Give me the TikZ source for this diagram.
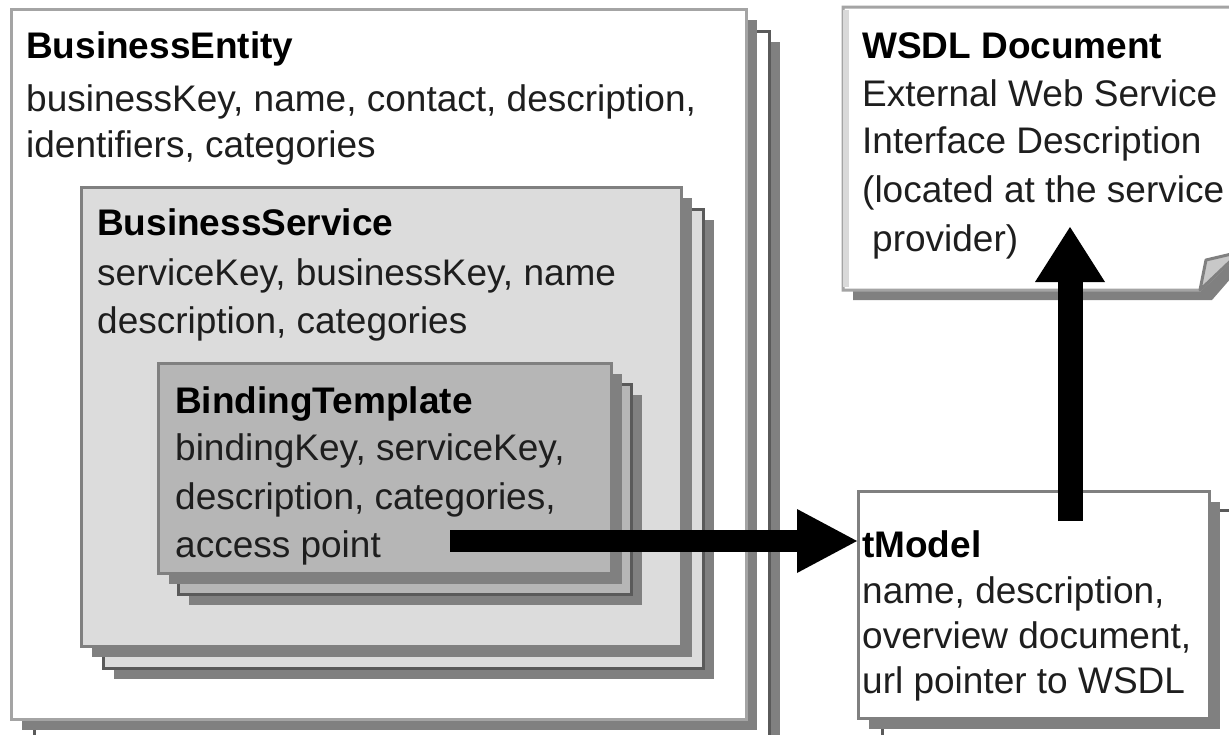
\documentclass[tikz,border=0pt]{standalone}
\usepackage{fontspec}
\setmainfont{Liberation Sans}
\usetikzlibrary{arrows.meta,shadows}
\definecolor{shadowgray}{HTML}{808080}
\definecolor{bordergray}{HTML}{A4A4A4}
\definecolor{backborder}{HTML}{5A5A5A}
\definecolor{bsfill}{HTML}{DCDCDC}
\definecolor{btfill}{HTML}{B6B6B6}
\definecolor{textc}{HTML}{1E1E1E}
\definecolor{foldgray}{HTML}{C8C8C8}
\begin{document}
\begin{tikzpicture}[x=1pt,y=-1pt,
  sheet/.style={draw=bordergray, line width=3pt, inner sep=0pt, anchor=north west,
    drop shadow={shadow xshift=10pt, shadow yshift=-10pt, fill=shadowgray, opacity=1}},
  backsheet/.style={sheet, draw=backborder},
  txt/.style={anchor=base west, inner sep=0pt, text=textc, font=\fontsize{37}{44}\selectfont},
  ttl/.style={txt, text=black, font=\fontsize{37}{44}\selectfont\bfseries},
  bigarrow/.style={line cap=butt, draw=black}
]
\useasboundingbox (0,0) rectangle (1229,734);
\fill[white] (0,0) rectangle (1229,734);

% BusinessEntity
\node[backsheet, fill=white, minimum width=735pt, minimum height=730pt] (beback) at (33,30) {};
\node[sheet, fill=white, minimum width=735pt, minimum height=710pt] (be) at (10,8) {};
% BusinessService
\node[backsheet, fill=bsfill, minimum width=600pt, minimum height=459pt] (bsback) at (102,208) {};
\node[sheet, draw=shadowgray, fill=bsfill, minimum width=600pt, minimum height=459pt] (bs) at (80,186) {};
% BindingTemplate
\node[backsheet, fill=btfill, minimum width=453pt, minimum height=210pt] (btback) at (177,383) {};
\node[sheet, draw=shadowgray, fill=btfill, minimum width=453pt, minimum height=210pt] (bt) at (157,362) {};
% tModel
\node[backsheet, fill=white, minimum width=360pt, minimum height=240pt] (tmback) at (881,509) {};
\node[sheet, draw=shadowgray, fill=white, minimum width=351pt, minimum height=227pt] (tm) at (857,490) {};

% WSDL document (note with folded corner)
\fill[shadowgray] (853,17) -- (1245,17) -- (1245,262) -- (1212,300) -- (853,300) -- cycle;
\filldraw[fill=white, draw=bordergray, line width=3pt] (843,7) -- (1240,7) -- (1240,252) -- (1200,290) -- (843,290) -- cycle;
\draw[draw=foldgray!70!white, line width=6pt] (846,10) -- (846,287);
\filldraw[fill=foldgray, draw=shadowgray, line width=3pt, line join=round] (1200,290) -- (1206,260) -- (1240,252) -- cycle;
\coordinate (wsdlin) at (1070,227);

% Texts
\node[ttl] (t1) at (26,58) {BusinessEntity};
\node[txt] (t2) at (26,111) {businessKey, name, contact, description,};
\node[txt] (t3) at (26,157) {identifiers, categories};

\node[ttl] (s1) at (97,235) {BusinessService};
\node[txt] (s2) at (97,285) {serviceKey, businessKey, name};
\node[txt] (s3) at (97,333) {description, categories};

\node[ttl] (b1) at (175,413) {BindingTemplate};
\node[txt] (b2) at (175,460) {bindingKey, serviceKey,};
\node[txt] (b3) at (175,509) {description, categories,};
\node[txt] (b4) at (175,557) {access point};

\node[ttl] (w1) at (862,58) {WSDL Document};
\node[txt] (w2) at (862,106) {External Web Service};
\node[txt] (w3) at (862,153) {Interface Description};
\node[txt] (w4) at (862,202) {(located at the service};
\node[txt] (w5) at (872,251) {provider)};

\node[ttl] (m1) at (862,557) {tModel};
\node[txt] (m2) at (862,603) {name, description,};
\node[txt] (m3) at (862,648) {overview document,};
\node[txt] (m4) at (862,693) {url pointer to WSDL};

% Arrows
\coordinate (hstart) at (450,541);
\coordinate (vstart) at (1070,521);
\draw[bigarrow, line width=22pt, -{Triangle[length=60pt,width=64pt,line width=0pt]}] (hstart) -- (hstart -| tm.west);
\draw[bigarrow, line width=25pt, -{Triangle[length=55pt,width=70pt,line width=0pt]}] (vstart) -- (wsdlin);
\end{tikzpicture}
\end{document}
